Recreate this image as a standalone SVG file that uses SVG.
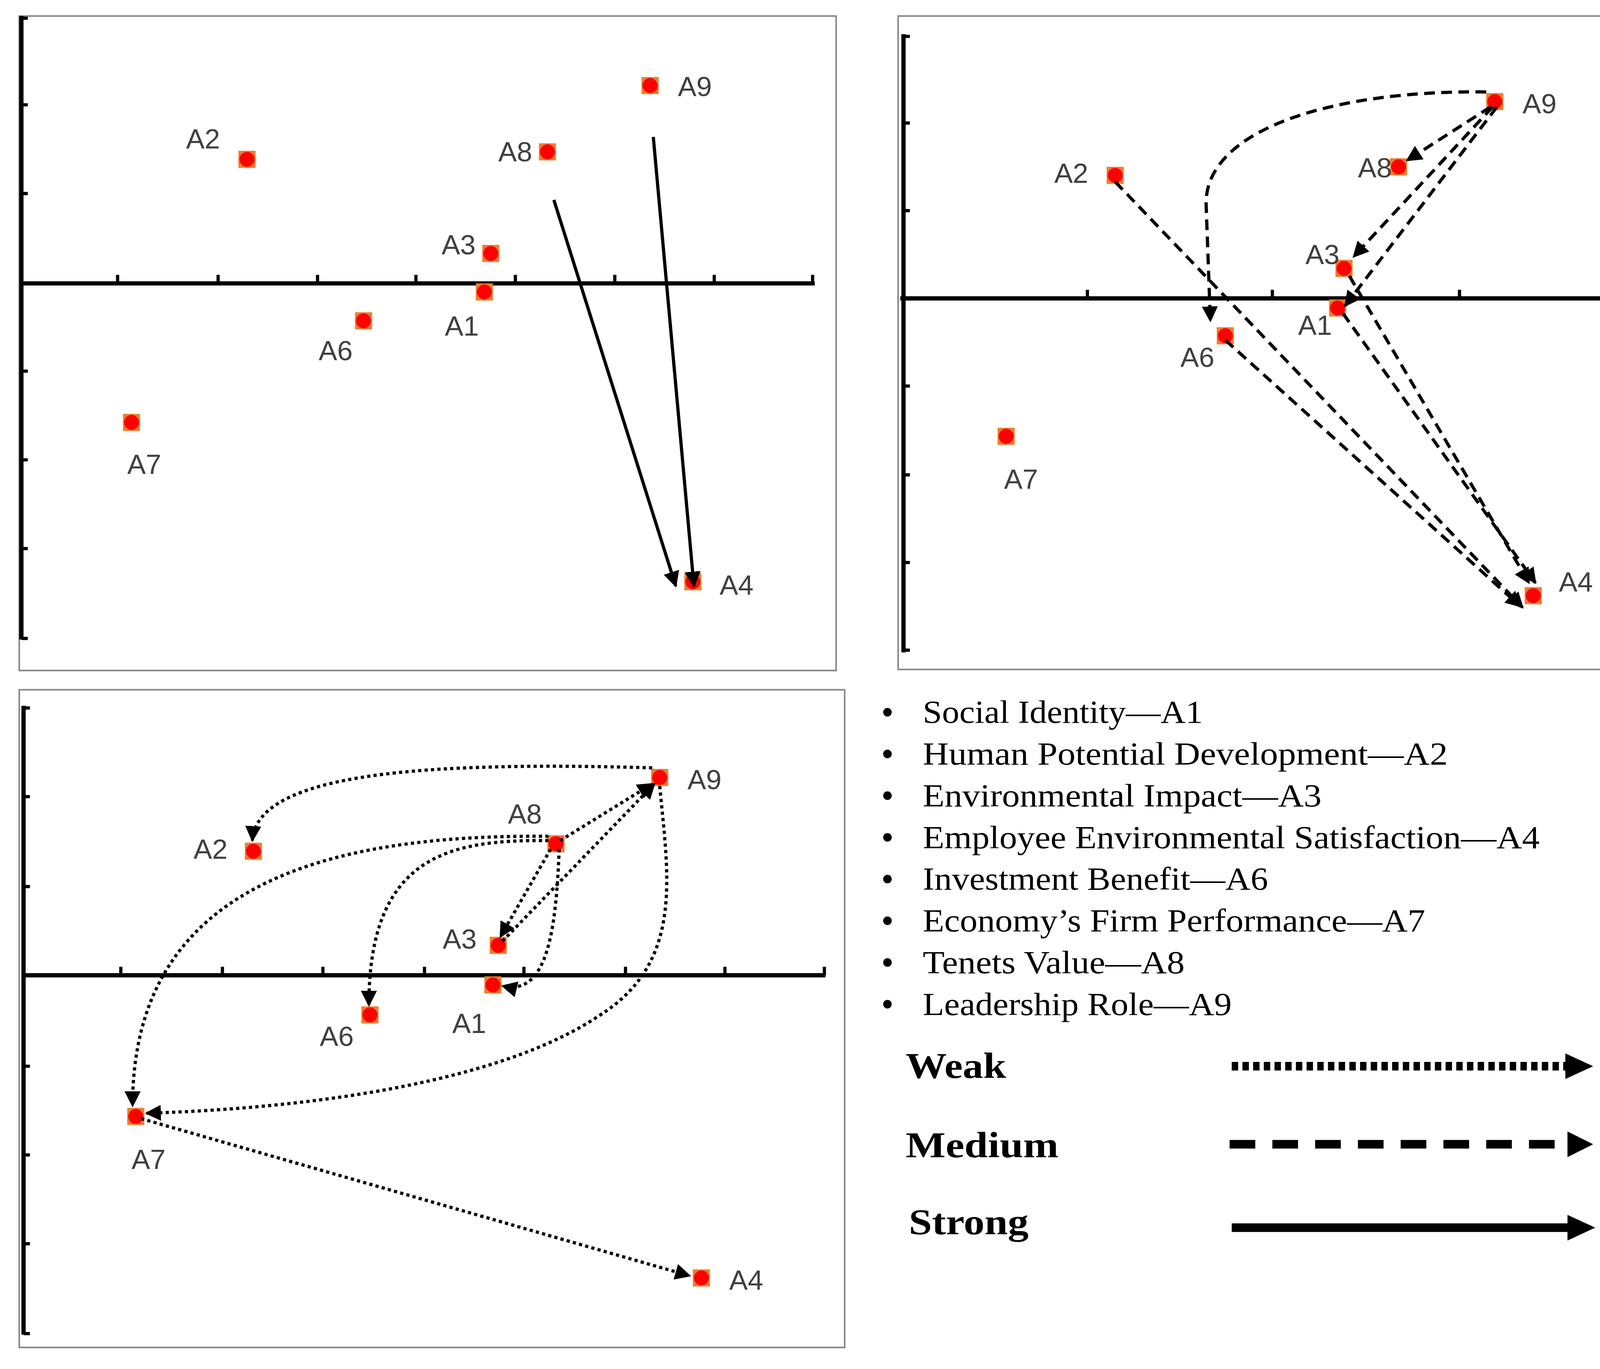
<svg xmlns="http://www.w3.org/2000/svg" width="4292" height="3504" viewBox="0 0 4292 3504">
<defs>
<marker id="ah" viewBox="0 0 10 10" refX="9" refY="5" markerWidth="5" markerHeight="5" orient="auto" markerUnits="strokeWidth"><path d="M0,0 L10,5 L0,10 z" fill="#000"/></marker>
<g id="pt"><rect x="-8" y="-8" width="16" height="16" fill="#ED7D31"/><circle r="7" fill="#FF0000"/></g>
</defs>
<style>
.box{fill:#fff;stroke:#888;stroke-width:1.5}
.ax{stroke:#000;stroke-width:4;fill:none}
.tk{stroke:#000;stroke-width:3}
.lb{font-family:"Liberation Sans",Arial,sans-serif;font-size:26px;fill:#404040}
.s{stroke:#000;stroke-width:3;fill:none;marker-end:url(#ah)}
.m{stroke:#000;stroke-width:3;fill:none;stroke-dasharray:10 6;marker-end:url(#ah)}
.w{stroke:#000;stroke-width:3;fill:none;stroke-dasharray:3 3;marker-end:url(#ah)}
.lg{font-family:"Liberation Serif","Times New Roman",serif;font-size:30px;fill:#000}
.lgb{font-family:"Liberation Serif","Times New Roman",serif;font-size:34px;font-weight:bold;fill:#000}
</style>
<rect width="4292" height="3504" fill="#fff"/>
<g transform="scale(2.7372)">
<g id="panel1">
<rect class="box" x="18" y="15" width="764" height="612"/>
<path class="ax" d="M20,15 V598 M18,265 H762"/>
<path class="tk" d="M110,265v-8 M204,265v-8 M297,265v-8 M389,265v-8 M482,265v-8 M575,265v-8 M668,265v-8 M760,265v-8 M20,98h6 M20,181h6 M20,347h6 M20,430h6 M20,513h6 M20,597h6 M20,17h6"/>
</g>
<g id="p1-nodes">
<g id="p1-A9"><use href="#pt" x="608" y="80"/><text class="lb" x="634" y="90">A9</text></g>
<g id="p1-A8"><use href="#pt" x="512" y="142"/><text class="lb" x="466" y="151">A8</text></g>
<g id="p1-A2"><use href="#pt" x="231" y="149"/><text class="lb" x="174" y="139">A2</text></g>
<g id="p1-A3"><use href="#pt" x="459" y="237"/><text class="lb" x="413" y="238">A3</text></g>
<g id="p1-A1"><use href="#pt" x="453" y="273"/><text class="lb" x="416" y="314">A1</text></g>
<g id="p1-A6"><use href="#pt" x="340" y="300"/><text class="lb" x="298" y="337">A6</text></g>
<g id="p1-A7"><use href="#pt" x="123" y="395"/><text class="lb" x="119" y="443">A7</text></g>
<g id="p1-A4"><use href="#pt" x="648" y="544"/><text class="lb" x="673" y="556">A4</text></g>
</g>
<g id="p1-connectors">
<path class="s" d="M518,187 L632,548"/>
<path class="s" d="M611,128 L649,548"/>
</g>

<g id="panel2">
<rect class="box" x="840" y="15" width="717" height="611"/>
<path class="ax" d="M845,32 V610 M842,279 H1540"/>
<path class="tk" d="M1017,279v-8 M1190,279v-8 M1365,279v-8 M1540,279v-8 M845,34h6 M845,115h6 M845,197h6 M845,361h6 M845,444h6 M845,526h6 M845,608h6"/>
</g>
<g id="p2-nodes">
<g id="p2-A9"><use href="#pt" x="1398" y="95"/><text class="lb" x="1424" y="106">A9</text></g>
<g id="p2-A8"><use href="#pt" x="1308" y="156"/><text class="lb" x="1270" y="166">A8</text></g>
<g id="p2-A2"><use href="#pt" x="1043" y="164"/><text class="lb" x="986" y="171">A2</text></g>
<g id="p2-A3"><use href="#pt" x="1257" y="251"/><text class="lb" x="1221" y="247">A3</text></g>
<g id="p2-A1"><use href="#pt" x="1251" y="288"/><text class="lb" x="1214" y="313">A1</text></g>
<g id="p2-A6"><use href="#pt" x="1146" y="314"/><text class="lb" x="1104" y="343">A6</text></g>
<g id="p2-A7"><use href="#pt" x="941" y="408"/><text class="lb" x="939" y="457">A7</text></g>
<g id="p2-A4"><use href="#pt" x="1434" y="557"/><text class="lb" x="1458" y="553">A4</text></g>
</g>
<g id="p2-connectors">
<path class="m" d="M1390,86 C1250,84 1128,120 1128,190 L1132,300"/>
<path class="m" d="M1394,100 L1316,150"/>
<path class="m" d="M1396,100 L1266,240"/>
<path class="m" d="M1400,100 L1258,286"/>
<path class="m" d="M1043,170 L1424,568"/>
<path class="m" d="M1146,318 L1422,567"/>
<path class="m" d="M1262,258 L1430,545"/>
<path class="m" d="M1256,293 L1436,545"/>
</g>

<g id="panel3">
<rect class="box" x="18" y="645" width="772" height="615"/>
<path class="ax" d="M22,660 V1248 M20,912 H772"/>
<path class="tk" d="M113,912v-8 M208,912v-8 M302,912v-8 M397,912v-8 M490,912v-8 M585,912v-8 M678,912v-8 M771,912v-8 M22,662h6 M22,745h6 M22,829h6 M22,997h6 M22,1080h6 M22,1163h6 M22,1247h6"/>
</g>
<g id="p3-nodes">
<g id="p3-A9"><use href="#pt" x="617" y="727"/><text class="lb" x="643" y="738">A9</text></g>
<g id="p3-A8"><use href="#pt" x="520" y="789"/><text class="lb" x="475" y="770">A8</text></g>
<g id="p3-A2"><use href="#pt" x="237" y="796"/><text class="lb" x="181" y="803">A2</text></g>
<g id="p3-A3"><use href="#pt" x="466" y="884"/><text class="lb" x="414" y="887">A3</text></g>
<g id="p3-A1"><use href="#pt" x="461" y="921"/><text class="lb" x="423" y="966">A1</text></g>
<g id="p3-A6"><use href="#pt" x="346" y="949"/><text class="lb" x="299" y="978">A6</text></g>
<g id="p3-A7"><use href="#pt" x="127" y="1044"/><text class="lb" x="123" y="1093">A7</text></g>
<g id="p3-A4"><use href="#pt" x="656" y="1195"/><text class="lb" x="682" y="1206">A4</text></g>
</g>
<g id="p3-connectors">
<path class="w" d="M610,718 C400,712 240,722 236,786"/>
<path class="w" d="M513,782 C300,780 124,830 124,1034"/>
<path class="w" d="M513,786 C420,785 345,800 345,940"/>
<path class="w" d="M515,794 L468,876"/>
<path class="w" d="M470,880 L612,733"/>
<path class="w" d="M524,786 L610,733"/>
<path class="w" d="M523,794 C520,870 512,932 470,922"/>
<path class="w" d="M617,735 C625,820 640,900 560,950 C470,1010 300,1036 137,1041"/>
<path class="w" d="M132,1046 L645,1193"/>
</g>

<g id="legend">
<g fill="#000"><circle cx="830" cy="666" r="4"/><circle cx="830" cy="705" r="4"/><circle cx="830" cy="744" r="4"/><circle cx="830" cy="783" r="4"/><circle cx="830" cy="822" r="4"/><circle cx="830" cy="861" r="4"/><circle cx="830" cy="900" r="4"/><circle cx="830" cy="939" r="4"/></g>
<text class="lg" x="863" y="676" textLength="262" lengthAdjust="spacingAndGlyphs">Social Identity—A1</text>
<text class="lg" x="863" y="715" textLength="491" lengthAdjust="spacingAndGlyphs">Human Potential Development—A2</text>
<text class="lg" x="863" y="754" textLength="373" lengthAdjust="spacingAndGlyphs">Environmental Impact—A3</text>
<text class="lg" x="863" y="793" textLength="577" lengthAdjust="spacingAndGlyphs">Employee Environmental Satisfaction—A4</text>
<text class="lg" x="863" y="832" textLength="323" lengthAdjust="spacingAndGlyphs">Investment Benefit—A6</text>
<text class="lg" x="863" y="871" textLength="470" lengthAdjust="spacingAndGlyphs">Economy’s Firm Performance—A7</text>
<text class="lg" x="863" y="910" textLength="245" lengthAdjust="spacingAndGlyphs">Tenets Value—A8</text>
<text class="lg" x="863" y="949" textLength="289" lengthAdjust="spacingAndGlyphs">Leadership Role—A9</text>
<text class="lgb" x="847" y="1008" textLength="94" lengthAdjust="spacingAndGlyphs">Weak</text>
<text class="lgb" x="847" y="1082" textLength="143" lengthAdjust="spacingAndGlyphs">Medium</text>
<text class="lgb" x="850" y="1154" textLength="112" lengthAdjust="spacingAndGlyphs">Strong</text>
<path d="M1152,997 H1468" stroke="#000" stroke-width="8" stroke-dasharray="6 4"/>
<path d="M1464,985 L1490,997 L1464,1009 z"/>
<path d="M1150,1070 H1468" stroke="#000" stroke-width="8" stroke-dasharray="24 16"/>
<path d="M1466,1058 L1490,1070 L1466,1082 z"/>
<path d="M1152,1148 H1468" stroke="#000" stroke-width="8"/>
<path d="M1466,1136 L1492,1148 L1466,1160 z"/>
</g>
</g>
</svg>
